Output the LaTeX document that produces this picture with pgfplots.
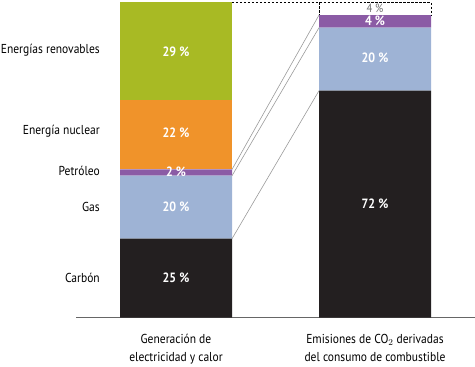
\documentclass[border=0pt]{standalone}
\usepackage{fontspec}
\setmainfont{PT Sans}[FakeStretch=0.89]
\usepackage{pgfplots}
\pgfplotsset{compat=1.18}
\definecolor{cblack}{HTML}{231F20}
\definecolor{cblue}{HTML}{9EB3D5}
\definecolor{cpurple}{HTML}{8B5BA5}
\definecolor{corange}{HTML}{F0932A}
\definecolor{cgreen}{HTML}{A8BA24}
\definecolor{cline}{HTML}{9A9A9A}
\tikzset{vlab/.style={font=\bfseries\fontsize{13.5}{15}\selectfont, text=white},
         clab/.style={font=\fontsize{13}{15}\selectfont, anchor=east, inner sep=0pt},
         conn/.style={cline, line width=0.6pt},
         dsh/.style={black, line width=0.6pt, dash pattern=on 2.5pt off 1.5pt}}
\begin{document}
\begin{tikzpicture}
\useasboundingbox (0,0) rectangle (475bp,367bp);
\begin{axis}[
  at={(76.5bp,49.5bp)}, anchor=south west,
  scale only axis, width=398bp, height=315bp,
  xmin=-0.5, xmax=1.5, ymin=0, ymax=100,
  enlargelimits=false, clip=false,
  ybar stacked, bar width=112bp,
  axis x line*=bottom, hide y axis,
  x axis line style={draw=black!60, line width=0.8pt},
  xtick={0,1}, major tick length=0pt,
  xticklabels={{Generación de\\electricidad y calor},{Emisiones de CO$_2$ derivadas\\del consumo de combustible}},
  xticklabel style={align=center, font=\fontsize{13}{18}\selectfont, yshift=-13bp},
]
\addplot[fill=cblack, draw=none] coordinates {(0,25) (1,72)};
\addplot[fill=cblue, draw=none] coordinates {(0,20) (1,20)};
\addplot[fill=cpurple, draw=none] coordinates {(0,2) (1,4)};
\addplot[fill=corange, draw=none] coordinates {(0,22) (1,0)};
\addplot[fill=cgreen, draw=none] coordinates {(0,31) (1,0)};
\addplot[fill=white, draw=none] coordinates {(0,0) (1,4)};
\coordinate (L25) at (axis cs:0.2814,25);
\coordinate (L45) at (axis cs:0.2814,45);
\coordinate (L47) at (axis cs:0.2814,47);
\coordinate (L100) at (axis cs:0.2814,100);
\coordinate (R72) at (axis cs:0.7186,72);
\coordinate (R92) at (axis cs:0.7186,92);
\coordinate (R96) at (axis cs:0.7186,96);
\coordinate (R100) at (axis cs:0.7186,100);
\coordinate (E100) at (axis cs:1.2814,100);
\coordinate (E96) at (axis cs:1.2814,96);
\coordinate (v1) at (axis cs:0,12.5);
\coordinate (v2) at (axis cs:0,35);
\coordinate (v3) at (axis cs:0,46.3);
\coordinate (v4) at (axis cs:0,58.5);
\coordinate (v5) at (axis cs:0,84.5);
\coordinate (w1) at (axis cs:1,36);
\coordinate (w2) at (axis cs:1,82.5);
\coordinate (w3) at (axis cs:1,94.3);
\coordinate (w4) at (axis cs:1,98.1);
\coordinate (c1) at (axis cs:-0.382,12.5);
\coordinate (c2) at (axis cs:-0.382,35);
\coordinate (c3) at (axis cs:-0.382,46.5);
\coordinate (c4) at (axis cs:-0.382,59);
\coordinate (c5) at (axis cs:-0.382,85);
\end{axis}
\draw[conn] (L25) -- (R72);
\draw[conn] (L45) -- (R92);
\draw[conn] (L47) -- (R96);
\draw[dsh] (L100) -- (E100) -- (E96);
\draw[dsh] (R100) -- (R96);
\node[vlab] at (v1) {25 \%};
\node[vlab] at (v2) {20 \%};
\node[vlab] at (v3) {2 \%};
\node[vlab] at (v4) {22 \%};
\node[vlab] at (v5) {29 \%};
\node[vlab] at (w1) {72 \%};
\node[vlab] at (w2) {20 \%};
\node[vlab] at (w3) {4 \%};
\node[font=\fontsize{12}{13}\selectfont, text=black!55, inner sep=0pt] at (w4) {4 \%};
\node[clab] at (c1) {Carbón};
\node[clab] at (c2) {Gas};
\node[clab] at (c3) {Petróleo};
\node[clab] at (c4) {Energía nuclear};
\node[clab] at (c5) {Energías renovables};
\end{tikzpicture}
\end{document}
